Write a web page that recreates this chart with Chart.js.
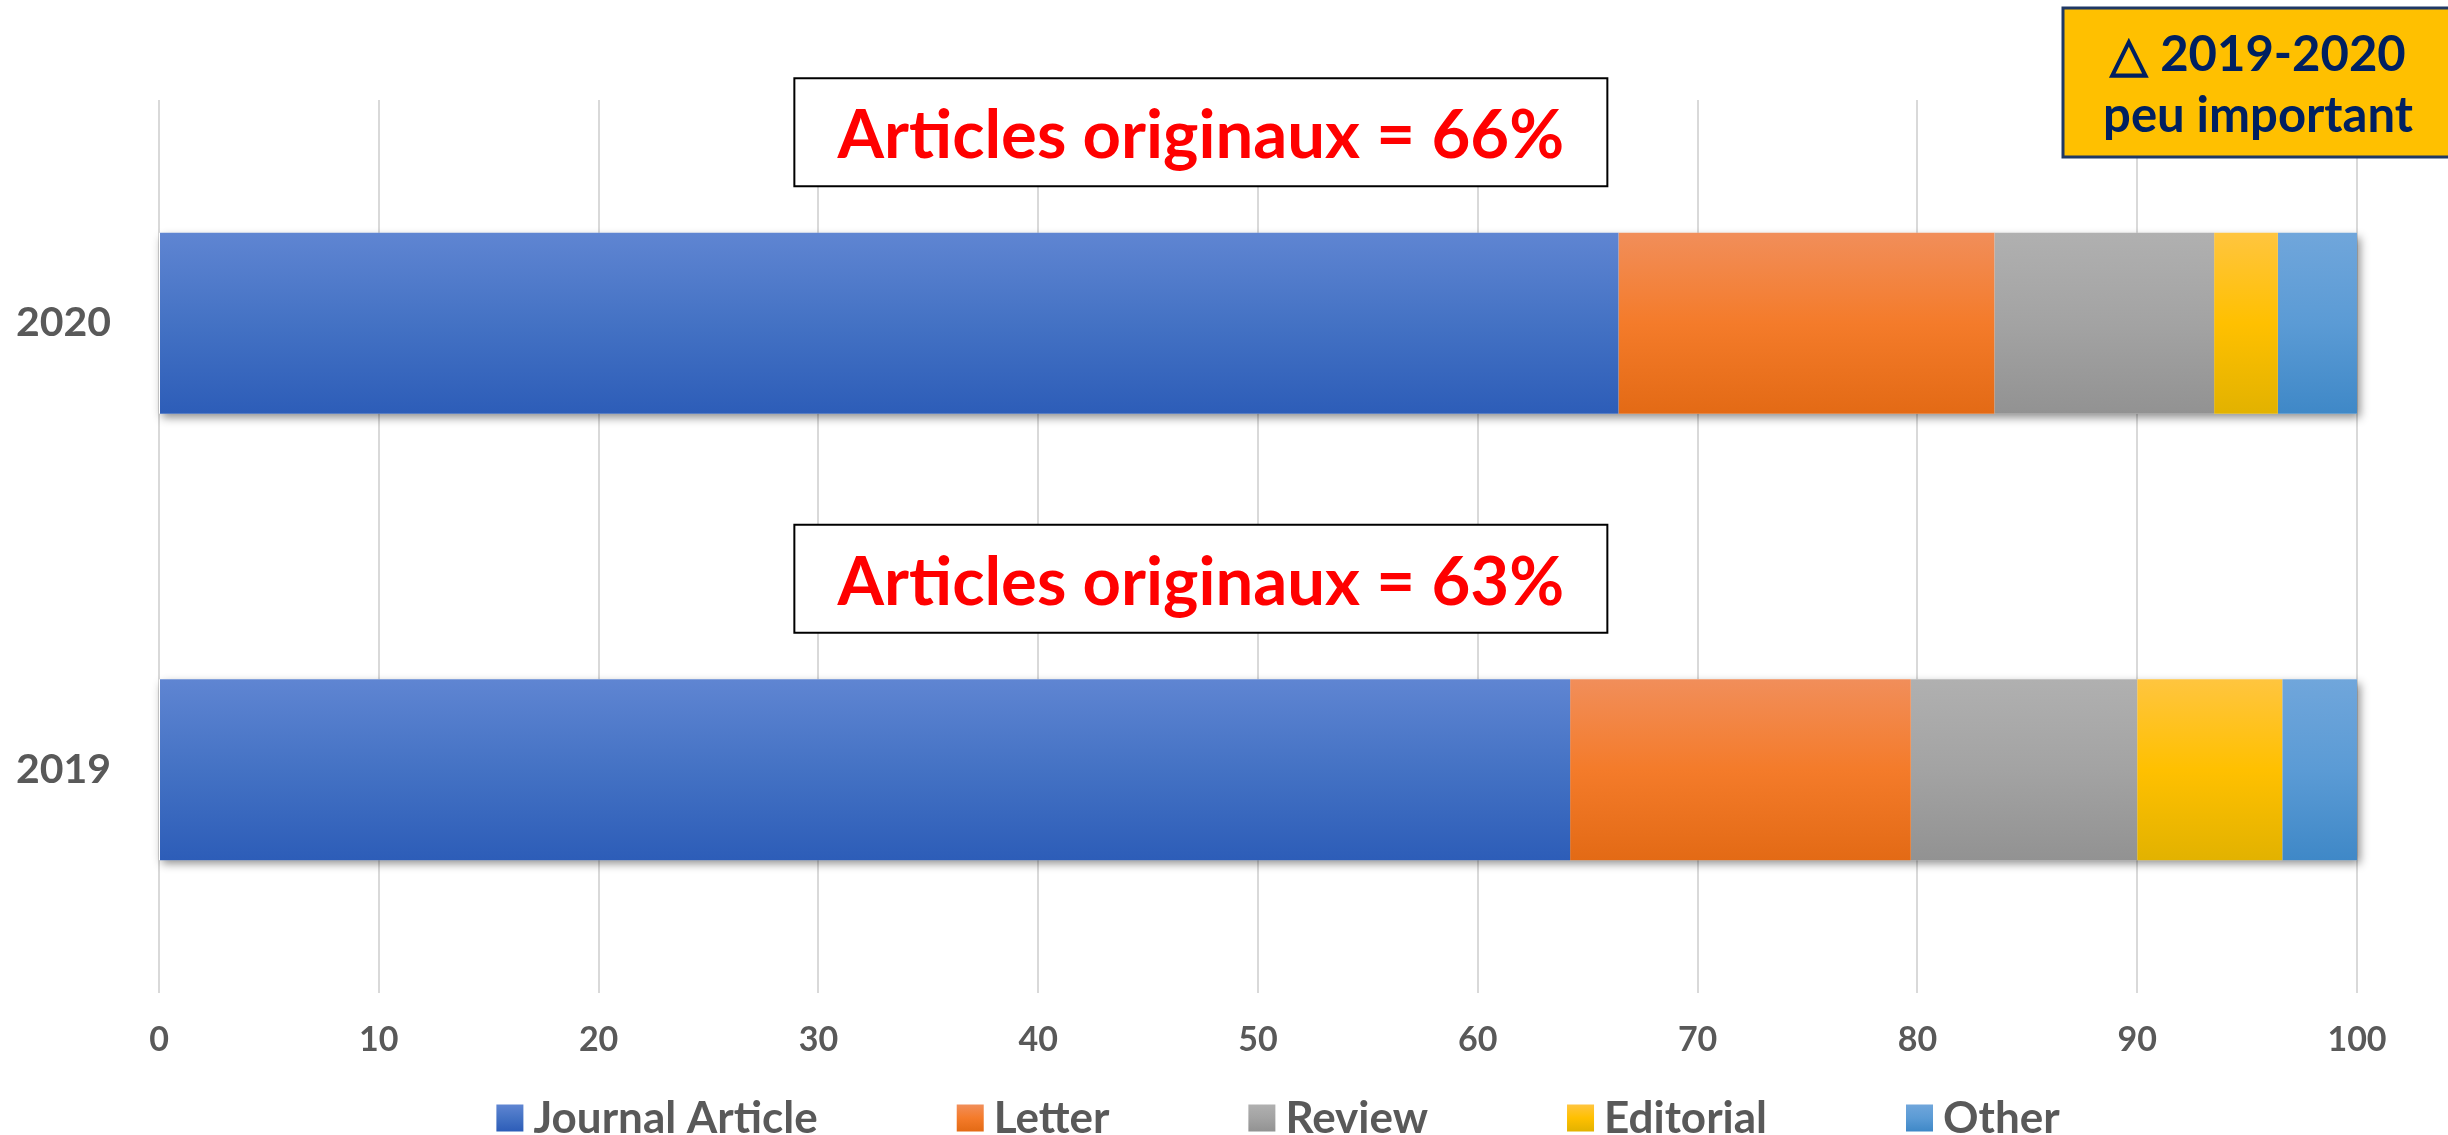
<!DOCTYPE html>
<html>
<head>
<meta charset="utf-8">
<script src="https://cdn.jsdelivr.net/npm/chart.js@4.4.1/dist/chart.umd.min.js"></script>
<style>
  html, body { margin: 0; padding: 0; background: #fff; overflow: hidden; }
  #typesChart { display: block; }
</style>
</head>
<body>
<canvas id="typesChart" width="2448" height="1135"></canvas>
<script>
// data (percent of publications per year)
const years = ['2020', '2019'];
const journalArticle = [66.4, 64.2];
const letter = [17.1, 15.5];
const review = [10.0, 10.3];
const editorial = [2.9, 6.6];
const other = [3.6, 3.4];
const seriesNames = ['Journal Article', 'Letter', 'Review', 'Editorial', 'Other'];
const xTickStep = 10;

const boxTexts = ['Articles originaux = 66%', 'Articles originaux = 63%'];
const noteLines = ['\u25B3 2019-2020', 'peu important'];

// top / middle / bottom shades, office style gradient
const fills = [
    ['#5F85D2', '#4472C4', '#2D5DB8'],
    ['#F18E5A', '#F47B2A', '#E36A15'],
    ['#B0B0B0', '#A3A3A3', '#929292'],
    ['#FFC53F', '#FFC000', '#E2B200'],
    ['#70A6DB', '#5B9BD5', '#3F88C7']
];

const barPct = 0.405;
const FONT = 'Lato';
const GREY = '#595959';

function barFill(stops) {
    return function (context) {
        const chart = context.chart;
        const yScale = chart.scales.y;
        if (context.dataIndex === undefined || !yScale || !yScale.ticks || yScale.ticks.length < 2) {
            return stops[1];
        }
        const center = yScale.getPixelForValue(context.dataIndex);
        const step = Math.abs(yScale.getPixelForValue(1) - yScale.getPixelForValue(0));
        const half = step * barPct / 2;
        const g = chart.ctx.createLinearGradient(0, center - half, 0, center + half);
        g.addColorStop(0, stops[0]);
        g.addColorStop(0.5, stops[1]);
        g.addColorStop(1, stops[2]);
        return g;
    };
}

const allSeries = [journalArticle, letter, review, editorial, other];

// soft shadow under each stacked bar, drawn once per bar so seams stay clean
const barShadow = {
    id: 'barShadow',
    beforeDatasetsDraw(chart) {
        const { ctx, scales: { x, y } } = chart;
        const step = Math.abs(y.getPixelForValue(1) - y.getPixelForValue(0));
        const h = step * barPct;
        years.forEach((yr, i) => {
            const total = allSeries.reduce((s, arr) => s + arr[i], 0);
            const x0 = x.getPixelForValue(0);
            const x1 = x.getPixelForValue(total);
            ctx.save();
            ctx.shadowColor = 'rgba(0,0,0,0.45)';
            ctx.shadowBlur = 9;
            ctx.shadowOffsetX = 3;
            ctx.shadowOffsetY = 4;
            ctx.fillStyle = '#ffffff';
            ctx.fillRect(x0, y.getPixelForValue(i) - h / 2, x1 - x0, h);
            ctx.restore();
        });
    }
};

// text boxes above each bar and the note in the corner
const callouts = {
    id: 'callouts',
    afterDraw(chart) {
        const { ctx, scales: { x, y } } = chart;
        const cx = x.getPixelForValue(47.4);
        const boxW = 813, boxH = 108;
        boxTexts.forEach((txt, i) => {
            const cy = y.getPixelForValue(i) - 191;
            ctx.save();
            ctx.fillStyle = '#ffffff';
            ctx.fillRect(cx - boxW / 2, cy - boxH / 2, boxW, boxH);
            ctx.lineWidth = 2;
            ctx.strokeStyle = '#000000';
            ctx.strokeRect(cx - boxW / 2, cy - boxH / 2, boxW, boxH);
            let size = 67;
            ctx.font = `bold ${size}px ${FONT}`;
            while (ctx.measureText(txt).width > 740 && size > 40) {
                size -= 1;
                ctx.font = `bold ${size}px ${FONT}`;
            }
            ctx.fillStyle = '#FF0000';
            ctx.textAlign = 'center';
            ctx.textBaseline = 'alphabetic';
            ctx.fillText(txt, cx, cy + 0.36 * size + 2);
            ctx.restore();
        });

        // yellow note, top right
        ctx.save();
        ctx.fillStyle = '#FFC000';
        ctx.fillRect(2063, 8, 400, 149);
        ctx.lineWidth = 3;
        ctx.strokeStyle = '#1F3864';
        ctx.strokeRect(2063, 8, 400, 149);
        ctx.fillStyle = '#002060';
        ctx.textAlign = 'center';
        ctx.textBaseline = 'alphabetic';
        ctx.font = `bold 49px ${FONT}`;
        ctx.fillText(noteLines[0], 2258, 71);
        ctx.fillText(noteLines[1], 2258, 132);
        ctx.restore();
    }
};

// legend row at the bottom, Excel-like spacing
const bottomLegend = {
    id: 'bottomLegend',
    afterDraw(chart) {
        const { ctx } = chart;
        const box = 27, gap = 10, spacing = 139, yMid = 1118;
        ctx.save();
        ctx.font = `bold 44px ${FONT}`;
        const widths = chart.data.datasets.map(ds => box + gap + ctx.measureText(ds.label).width);
        const total = widths.reduce((a, b) => a + b, 0) + spacing * (widths.length - 1);
        let xPos = 1278 - total / 2;
        chart.data.datasets.forEach((ds, i) => {
            const st = fills[i];
            const g = ctx.createLinearGradient(0, yMid - box / 2, 0, yMid + box / 2);
            g.addColorStop(0, st[0]);
            g.addColorStop(0.5, st[1]);
            g.addColorStop(1, st[2]);
            ctx.fillStyle = g;
            ctx.fillRect(xPos, yMid - box / 2, box, box);
            ctx.fillStyle = GREY;
            ctx.textAlign = 'left';
            ctx.textBaseline = 'alphabetic';
            ctx.fillText(ds.label, xPos + box + gap, yMid + 15);
            xPos += widths[i] + spacing;
        });
        ctx.restore();
    }
};

const ctx = document.getElementById('typesChart').getContext('2d');
const typesChart = new Chart(ctx, {
    type: 'bar',
    data: {
        labels: years,
        datasets: allSeries.map((arr, i) => ({
            label: seriesNames[i],
            data: arr,
            backgroundColor: barFill(fills[i]),
            borderWidth: 0,
            barPercentage: barPct,
            categoryPercentage: 1
        }))
    },
    options: {
        indexAxis: 'y',
        responsive: false,
        animation: false,
        layout: {
            padding: { top: 100, right: 91, bottom: 72, left: 0 }
        },
        plugins: {
            legend: { display: false },
            tooltip: { enabled: false }
        },
        scales: {
            x: {
                stacked: true,
                min: 0,
                max: 100,
                border: { display: false },
                grid: { color: '#D9D9D9', lineWidth: 2, drawTicks: false },
                ticks: {
                    stepSize: xTickStep,
                    padding: 27,
                    color: GREY,
                    font: { family: FONT, size: 34, weight: 'bold' }
                },
                afterFit(scale) { scale.height = 70; }
            },
            y: {
                stacked: true,
                border: { display: false },
                grid: { display: false, drawTicks: false },
                ticks: {
                    padding: 48,
                    color: GREY,
                    font: { family: FONT, size: 41, weight: 'bold' }
                },
                afterFit(scale) { scale.width = 159; }
            }
        }
    },
    plugins: [barShadow, callouts, bottomLegend]
});
</script>
</body>
</html>
